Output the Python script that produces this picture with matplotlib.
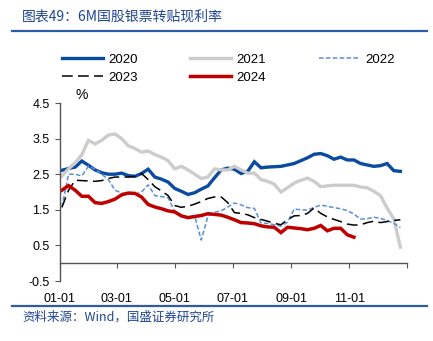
import matplotlib
matplotlib.use("Agg")
import matplotlib.pyplot as plt
import numpy as np
import pandas as pd

plt.rcParams["font.family"] = ["Liberation Sans", "Noto Sans CJK SC", "DejaVu Sans"]

# weekly 6M bank acceptance rediscount rates (%)
rate_2020 = [2.61, 2.66, 2.70, 2.87, 2.75, 2.62, 2.54, 2.50, 2.50, 2.53, 2.46, 2.44, 2.52, 2.64,
             2.42, 2.36, 2.28, 2.10, 2.02, 1.93, 1.98, 2.08, 2.17, 2.40, 2.62, 2.67, 2.64, 2.52,
             2.58, 2.85, 2.68, 2.70, 2.71, 2.72, 2.76, 2.80, 2.88, 2.96, 3.06, 3.08, 3.02, 2.92,
             2.98, 2.90, 2.90, 2.80, 2.76, 2.72, 2.74, 2.80, 2.60, 2.58]
rate_2021 = [2.45, 2.65, 2.82, 3.05, 3.45, 3.35, 3.45, 3.60, 3.63, 3.50, 3.30, 3.22, 3.12, 3.15,
             3.05, 2.98, 2.88, 2.65, 2.72, 2.62, 2.50, 2.38, 2.42, 2.65, 2.62, 2.62, 2.72, 2.62,
             2.53, 2.53, 2.35, 2.30, 2.22, 2.00, 2.12, 2.25, 2.33, 2.39, 2.30, 2.15, 2.17, 2.19,
             2.19, 2.19, 2.19, 2.14, 2.12, 2.02, 1.90, 1.55, 1.25, 0.45]
rate_2022 = [1.57, 2.50, 2.50, 2.45, 2.73, 2.64, 2.50, 2.35, 2.05, 1.97, 1.95, 1.93, 2.00, 2.20,
             1.90, 1.87, 1.84, 1.45, 1.30, 1.29, 1.33, 0.65, 1.32, 1.43, 1.47, 1.58, 1.69, 1.64,
             1.56, 1.54, 1.13, 1.12, 1.08, 1.04, 1.15, 1.52, 1.50, 1.49, 1.57, 1.63, 1.60, 1.56,
             1.53, 1.48, 1.38, 1.24, 1.25, 1.29, 1.26, 1.20, 1.12, 1.00]
rate_2023 = [1.57, 2.05, 2.33, 2.32, 2.31, 2.30, 2.32, 2.38, 2.42, 2.42, 2.42, 2.44, 2.52, 2.35,
             2.15, 2.03, 1.90, 1.62, 1.57, 1.60, 1.66, 1.73, 1.82, 1.86, 1.86, 1.70, 1.42, 1.40,
             1.36, 1.28, 1.23, 1.18, 1.12, 1.08, 1.22, 1.33, 1.34, 1.40, 1.55, 1.40, 1.30, 1.23,
             1.17, 1.10, 1.07, 1.08, 1.14, 1.18, 1.14, 1.17, 1.20, 1.22]
rate_2024 = [2.05, 2.18, 2.05, 1.88, 1.88, 1.70, 1.68, 1.73, 1.80, 1.92, 1.97, 1.96, 1.86, 1.65,
             1.58, 1.53, 1.47, 1.44, 1.33, 1.28, 1.31, 1.34, 1.39, 1.37, 1.35, 1.29, 1.22, 1.14,
             1.13, 1.11, 1.05, 1.02, 1.01, 0.86, 1.01, 0.99, 0.97, 0.94, 0.98, 1.06, 0.91, 0.98,
             0.98, 0.80, 0.73]

years = ["2020", "2021", "2022", "2023", "2024"]
series = [rate_2020, rate_2021, rate_2022, rate_2023, rate_2024]
colors = ["#0a4a9f", "#cccccc", "#5b8fd6", "#000000", "#c00000"]
widths = [2.4, 2.4, 1.1, 1.1, 2.5]
dashes = [None, None, (3, 1.5), (7, 3.5), None]

tick_labels = ["01-01", "03-01", "05-01", "07-01", "09-01", "11-01", ""]

fig = plt.figure(figsize=(4.33, 3.41), dpi=100)
ax = fig.add_axes([60 / 433, 1 - 281 / 341, 347 / 433, 178 / 341])

for year, vals, c, lw, ds in zip(years, series, colors, widths, dashes):
    dates = pd.date_range(f"{year}-01-03", periods=len(vals), freq="7D")
    doy = (dates - pd.Timestamp(f"{year}-01-01")).days
    line, = ax.plot(doy, vals, color=c, lw=lw, label=year, solid_joinstyle="miter")
    if ds is not None:
        line.set_dashes(ds)

ticks = pd.date_range("2020-01-01", "2021-01-01", freq="2MS")
tick_pos = (ticks - pd.Timestamp("2020-01-01")).days
ax.set_xlim(0, 366)
ax.set_xticks(tick_pos)
ax.set_xticklabels(tick_labels)
ax.set_ylim(-0.5, 4.5)
ax.set_yticks(np.arange(-0.5, 4.6, 1.0))
ax.set_yticklabels(["-0.5", "0.5", "1.5", "2.5", "3.5", "4.5"])

ax.spines["top"].set_visible(False)
ax.spines["right"].set_visible(False)
ax.spines["bottom"].set_position(("data", 0))
for s in ["left", "bottom"]:
    ax.spines[s].set_color("#555555")
    ax.spines[s].set_linewidth(1.0)
ax.tick_params(axis="x", direction="out", length=3.5, pad=18, labelsize=9, color="#555555")
ax.tick_params(axis="y", direction="out", length=3.5, pad=4, labelsize=9, color="#555555")

ax.text(0.045, 1.005, "%", transform=ax.transAxes, fontsize=10, va="bottom")

handles, labels = ax.get_legend_handles_labels()
order = [0, 3, 1, 4, 2]
fig.legend([handles[i] for i in order], [labels[i] for i in order], ncol=3,
           loc="center left", bbox_to_anchor=(62 / 433, 1 - 68.5 / 341), frameon=False,
           borderpad=0, borderaxespad=0,
           fontsize=9.5, handlelength=3.1, handletextpad=0.4, columnspacing=4.0,
           labelspacing=0.45)

title_color = "#1f4595"
fig.text(22 / 433, 1 - 17 / 341, "图表49：6M国股银票转贴现利率", fontsize=10,
         color=title_color, style="italic", va="center",
         family=["Noto Sans CJK SC", "DejaVu Sans"])
fig.text(22 / 433, 1 - 317 / 341, "资料来源：Wind，国盛证券研究所", fontsize=9,
         color=title_color, style="italic", va="center",
         family=["Noto Sans CJK SC", "DejaVu Sans"])
fig.add_artist(plt.Line2D([12 / 433, 427 / 433], [1 - 31 / 341, 1 - 31 / 341],
                          color="#2e5ca8", lw=1.6))
fig.add_artist(plt.Line2D([12 / 433, 427 / 433], [1 - 306 / 341, 1 - 306 / 341],
                          color="#2e5ca8", lw=1.6))

fig.savefig("out.png", dpi=100)
